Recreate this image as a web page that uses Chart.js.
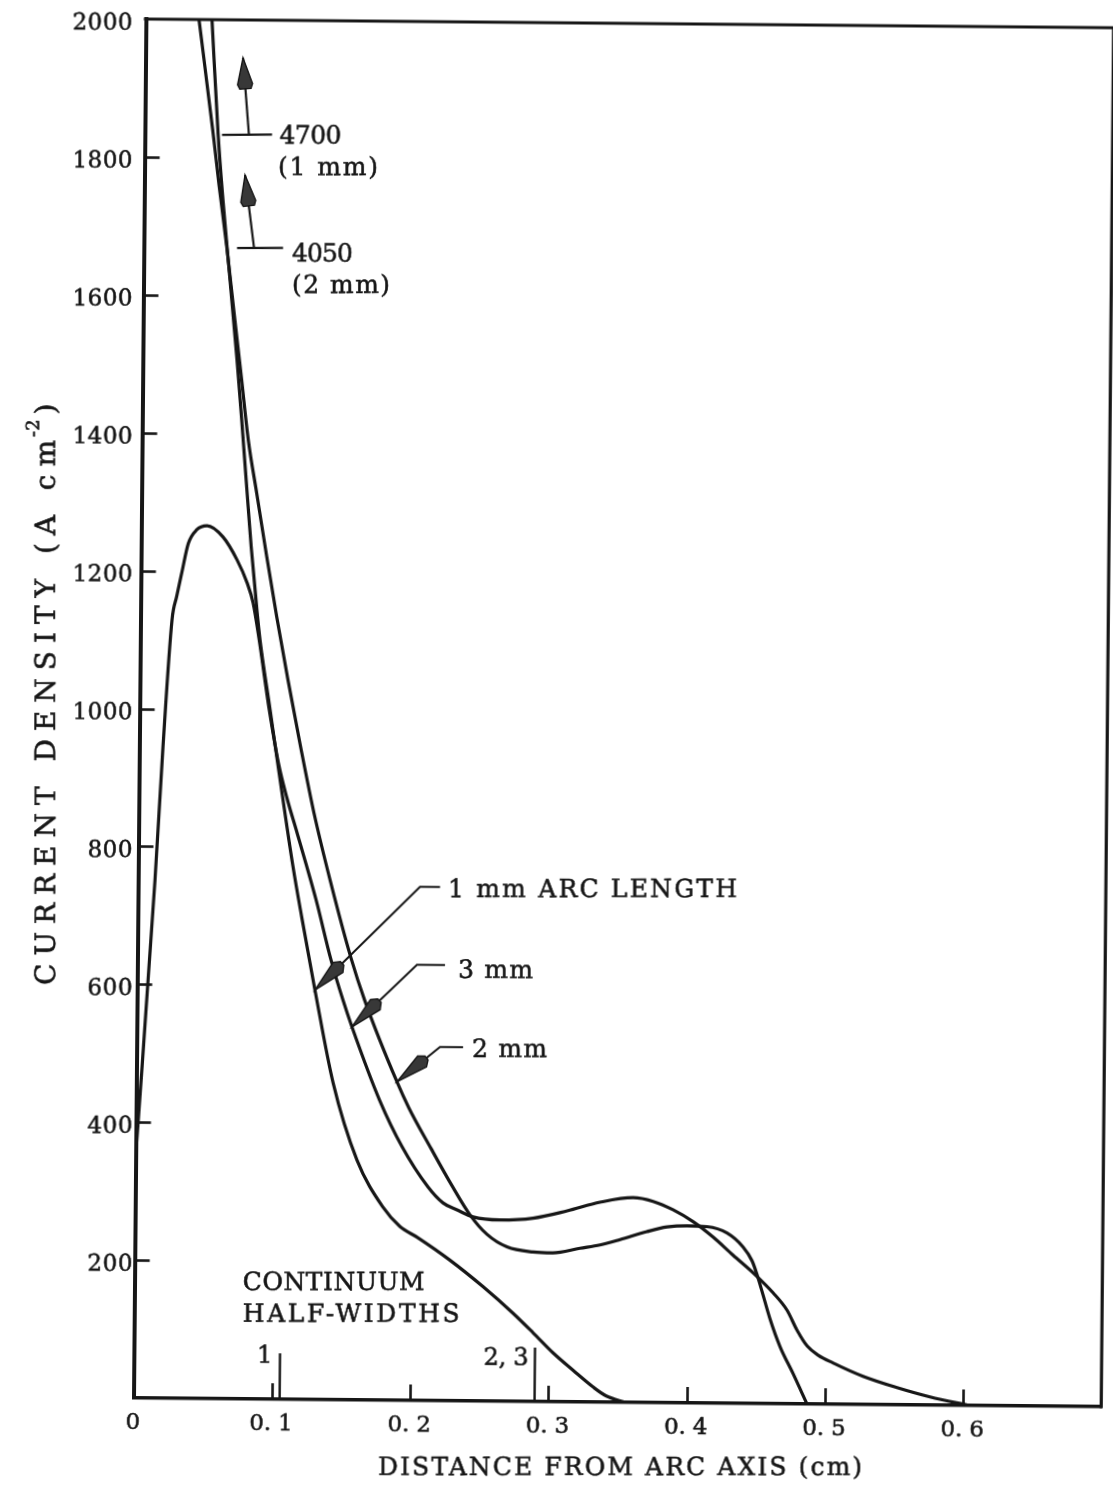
<!DOCTYPE html>
<html>
<head>
<meta charset="utf-8">
<script src="https://cdn.jsdelivr.net/npm/chart.js@4.4.1/dist/chart.umd.min.js"></script>
<style>
  html, body { margin: 0; padding: 0; background: #fff; overflow: hidden; }
  #sheet {
    position: absolute; left: 0; top: 0; width: 1113px; height: 1485px;
    transform-origin: 133.5px 1398px;
    transform: rotate(0.516deg);
  }
  canvas { display: block; }
</style>
</head>
<body>
<div id="sheet"><canvas id="c" width="1113" height="1485" style="width:1113px;height:1485px"></canvas></div>
<script>
// ---- axis ticks ----
const xTicks = [0, 0.1, 0.2, 0.3, 0.4, 0.5, 0.6, 0.7];
const xTickLabels = ['0', '0. 1', '0. 2', '0. 3', '0. 4', '0. 5', '0. 6', ''];
const yTicks = [0, 200, 400, 600, 800, 1000, 1200, 1400, 1600, 1800, 2000];
const yTickLabels = ['', '200', '400', '600', '800', '1000', '1200', '1400', '1600', '1800', '2000'];

// ---- current density profiles: r (cm), j (A cm^-2) ----
const r1mm = [0.0478, 0.0529, 0.0569, 0.0625, 0.0681, 0.0719, 0.0755, 0.0796, 0.0841, 0.0866, 0.0943, 0.1006,
              0.1119, 0.1185, 0.1286, 0.1423, 0.1601, 0.1792, 0.1917, 0.2040, 0.2280, 0.2521, 0.2739, 0.2885,
              0.3031, 0.3177, 0.3323, 0.3420, 0.3560];
const j1mm = [2000, 1836, 1739, 1623, 1507, 1420, 1333, 1236, 1145, 1101, 1000, 917,
              773, 700, 594, 460, 348, 280, 252, 237, 204, 166, 128, 100,
              71, 46, 22, 9, 0];

const r2mm = [0.0384, 0.0493, 0.0540, 0.0600, 0.0660, 0.0716, 0.0768, 0.0832, 0.0909, 0.0985, 0.1071, 0.1167,
              0.1267, 0.1388, 0.1543, 0.1646, 0.1885, 0.1974, 0.2135, 0.2290, 0.2422, 0.2546, 0.2692, 0.2880,
              0.3024, 0.3220, 0.3364, 0.3509, 0.3703, 0.3848, 0.3992, 0.4137, 0.4282, 0.4399, 0.4465, 0.4502,
              0.4539, 0.4599, 0.4673, 0.4769, 0.4872];
const j2mm = [2000, 1836, 1760, 1670, 1570, 1478, 1391, 1314, 1222, 1135, 1043, 946,
              851, 754, 642, 580, 462, 424, 366, 312, 270, 242, 224, 217,
              216, 223, 228, 236, 248, 255, 257, 256, 247, 227, 207, 187,
              163, 123, 83, 44, 0];

const r3mm = [0, 0.0122, 0.0171, 0.0228, 0.0260, 0.0295, 0.0341, 0.0401, 0.0475, 0.0591, 0.0694, 0.0768,
              0.0813, 0.0860, 0.0937, 0.1010, 0.1071, 0.1146, 0.1288, 0.1400, 0.1489, 0.1556, 0.1761, 0.1926,
              0.2116, 0.2226, 0.2328, 0.2444, 0.2639, 0.2878, 0.3124, 0.3362, 0.3600, 0.3745, 0.3890, 0.4036,
              0.4181, 0.4327, 0.4488, 0.4619, 0.4721, 0.4795, 0.4870, 0.4950, 0.5057, 0.5275, 0.5522, 0.5761,
              0.6050];
const j3mm = [350, 752, 945, 1129, 1163, 1197, 1240, 1260, 1266, 1250, 1217, 1184,
              1155, 1101, 1000, 920, 872, 822, 725, 638, 580, 541, 435, 368,
              310, 287, 277, 267, 263, 266, 277, 290, 297, 292, 280, 263,
              241, 215, 187, 161, 136, 107, 84, 71, 60, 41, 25, 12,
              0];

// on-axis values that run off the top of the scale
const peakJ = [4700, 4050];
const peakArc = ['1 mm', '2 mm'];

// continuum half-widths (cm)
const halfWidthR = [0.1057, 0.2901];
const halfWidthLabels = ['1', '2, 3'];

const curveLabels = ['1 mm ARC LENGTH', '3 mm', '2 mm'];

// ---- drawing constants ----
const ROT = 0.516 * Math.PI / 180;
const PIVOT = { x: 133.5, y: 1398 };
const FONT = '"DejaVu Serif", "Liberation Serif", serif';
const INK = '#161616';

function pts(r, j) { return r.map((v, i) => ({ x: v, y: j[i] })); }

function series(label, r, j) {
  return {
    label, data: pts(r, j),
    borderColor: INK, borderWidth: 3.2, pointRadius: 0,
    cubicInterpolationMode: 'monotone', fill: false
  };
}

// filled glyphs with a hairline outline, for the heavier typewritten look
function ink(c, str, x, y) {
  c.fillText(str, x, y);
  c.lineWidth = 0.55;
  c.strokeStyle = INK;
  c.strokeText(str, x, y);
}

// draw text stretched or squeezed to a given ink width through letter spacing
function fitText(c, str, x, y, size, width) {
  c.font = size + 'px ' + FONT;
  c.textAlign = 'left';
  c.textBaseline = 'alphabetic';
  const hasLS = 'letterSpacing' in c;
  if (hasLS) c.letterSpacing = '0px';
  const w = c.measureText(str).width;
  if (!width || str.length < 2) { ink(c, str, x, y); return w; }
  if (hasLS) {
    c.letterSpacing = ((width - w) / (str.length - 1)).toFixed(2) + 'px';
    ink(c, str, x, y);
    c.letterSpacing = '0px';
  } else {
    c.save(); c.translate(x, y); c.scale(width / w, 1); ink(c, str, 0, 0); c.restore();
  }
  return width;
}

// run fn in an upright frame (cancels the sheet rotation for typed lettering)
function upright(c, fn) {
  c.save();
  c.translate(PIVOT.x, PIVOT.y);
  c.rotate(-ROT);
  c.translate(-PIVOT.x, -PIVOT.y);
  fn();
  c.restore();
}

// filled pointer head; `back` is the fraction of the width kept at the rear
function arrowHead(c, from, tip, len, half, back) {
  const dx = tip.x - from.x, dy = tip.y - from.y, L = Math.hypot(dx, dy);
  const ux = dx / L, uy = dy / L, nx = -uy, ny = ux;
  const wx = tip.x - ux * len * 0.85, wy = tip.y - uy * len * 0.85;
  const bx = tip.x - ux * len, by = tip.y - uy * len;
  c.beginPath();
  c.moveTo(tip.x, tip.y);
  c.lineTo(wx + nx * half, wy + ny * half);
  c.lineTo(bx + nx * half * back, by + ny * half * back);
  c.lineTo(bx - nx * half * back, by - ny * half * back);
  c.lineTo(wx - nx * half, wy - ny * half);
  c.closePath();
  c.fillStyle = '#383838';
  c.fill();
  c.lineWidth = 1.4;
  c.strokeStyle = INK;
  c.stroke();
}

const lettering = {
  id: 'lettering',
  beforeDraw(chart) {
    const c = chart.ctx;
    c.save();
    c.fillStyle = '#fff';
    c.fillRect(0, 0, chart.width, chart.height);
    c.restore();
  },
  afterDraw(chart) {
    const c = chart.ctx;
    const xs = chart.scales.x, ys = chart.scales.y, a = chart.chartArea;
    const P = (x, y) => ({ x: xs.getPixelForValue(x), y: ys.getPixelForValue(y) });

    c.save();
    c.strokeStyle = INK;
    c.fillStyle = INK;
    c.lineCap = 'butt';

    // top and right edges of the frame
    c.lineWidth = 3.2;
    c.beginPath();
    c.moveTo(a.left - 2, a.top);
    c.lineTo(a.right, a.top);
    c.lineTo(a.right, a.bottom + 1.5);
    c.stroke();

    // inward tick marks on both axes
    c.lineWidth = 2.6;
    for (let i = 1; i < yTicks.length - 1; i++) {
      const y = Math.round(ys.getPixelForValue(yTicks[i])) + 0.5;
      c.beginPath(); c.moveTo(a.left - 1, y); c.lineTo(a.left + 15, y); c.stroke();
    }
    for (let i = 1; i < xTicks.length - 1; i++) {
      const x = Math.round(xs.getPixelForValue(xTicks[i])) + 0.5;
      c.beginPath(); c.moveTo(x, a.bottom + 1); c.lineTo(x, a.bottom - 16); c.stroke();
    }

    // continuum half-width markers
    const hwLen = [46, 54];
    c.lineWidth = 2.4;
    halfWidthR.forEach((r, i) => {
      const p = P(r, 0);
      c.beginPath();
      c.moveTo(p.x, p.y);
      c.lineTo(p.x, p.y - hwLen[i]);
      c.stroke();
    });

    // off-scale peak pointers
    const peakGeo = [
      { h0: [0.0558, 1833], h1: [0.0920, 1834], s0: [0.0753, 1833], tip: [0.0705, 1945] },
      { h0: [0.0674, 1669], h1: [0.1007, 1670], s0: [0.0797, 1669.5], tip: [0.0727, 1775] }
    ];
    peakGeo.forEach(g => {
      const h0 = P(...g.h0), h1 = P(...g.h1), s0 = P(...g.s0), tip = P(...g.tip);
      c.lineWidth = 2.2;
      c.beginPath(); c.moveTo(h0.x, h0.y); c.lineTo(h1.x, h1.y); c.stroke();
      c.beginPath(); c.moveTo(s0.x, s0.y); c.lineTo(tip.x, tip.y); c.stroke();
      arrowHead(c, s0, tip, 31, 7.5, 0.75);
    });

    // curve identification leaders
    const leaderGeo = [
      { h0: [0.2184, 745], corner: [0.2039, 745], tip: [0.1286, 594] },
      { h0: [0.2225, 632], corner: [0.2022, 632], tip: [0.1556, 541] },
      { h0: [0.2361, 513], corner: [0.2194, 513], tip: [0.1885, 462] }
    ];
    leaderGeo.forEach(g => {
      const h0 = P(...g.h0), k = P(...g.corner), tip = P(...g.tip);
      c.lineWidth = 2;
      c.beginPath(); c.moveTo(h0.x, h0.y); c.lineTo(k.x, k.y); c.lineTo(tip.x, tip.y); c.stroke();
      arrowHead(c, k, tip, 38, 7, 0.35);
    });

    // x tick labels follow the sheet
    c.fillStyle = INK;
    xTicks.forEach((v, i) => {
      const s = xTickLabels[i];
      if (!s) return;
      const x = xs.getPixelForValue(v);
      c.font = '23px ' + FONT;
      const w = s.length > 1 ? 43.5 : c.measureText(s).width;
      fitText(c, s, x - w / 2 - 0.5, 1428.5, 23, s.length > 1 ? 43.5 : 0);
    });

    upright(c, () => {
      c.fillStyle = INK;
      // y tick labels, right aligned
      yTicks.forEach((v, i) => {
        const s = yTickLabels[i];
        if (!s) return;
        const y = ys.getPixelForValue(v) + 10.5;
        const target = s.length * 15;
        fitText(c, s, 132.5 - target, y, 23, target);
      });

      // axis titles
      fitText(c, 'DISTANCE FROM ARC AXIS (cm)', 378, 1475, 25, 484);

      c.save();
      c.translate(55, 985);
      c.rotate(-Math.PI / 2);
      const mainW = fitText(c, 'CURRENT DENSITY (A cm', 0, 0, 28, 545);
      c.font = '18px ' + FONT;
      ink(c, '-2', mainW + 3, -16);
      const supW = c.measureText('-2').width;
      c.font = '28px ' + FONT;
      ink(c, ')', mainW + supW + 8, 0);
      c.restore();

      // peak values
      fitText(c, String(peakJ[0]), 279.5, 143.5, 25, 62);
      fitText(c, '(' + peakArc[0] + ')', 278, 175, 25, 100);
      fitText(c, String(peakJ[1]), 292, 261.5, 25, 61);
      fitText(c, '(' + peakArc[1] + ')', 292, 293, 25, 98);

      // curve names
      fitText(c, curveLabels[0], 448, 897, 25, 289);
      fitText(c, curveLabels[1], 458, 978, 25, 75);
      fitText(c, curveLabels[2], 472, 1057, 25, 75);

      // half-width legend
      fitText(c, 'CONTINUUM', 242.7, 1290, 25, 182);
      fitText(c, 'HALF-WIDTHS', 242.7, 1321.7, 25, 217);
      fitText(c, halfWidthLabels[0], 257, 1362.5, 24, 0);
      fitText(c, halfWidthLabels[1], 483.5, 1365, 24, 45);
    });

    c.restore();
  }
};

new Chart(document.getElementById('c'), {
  type: 'line',
  data: {
    datasets: [
      series('1 mm', r1mm, j1mm),
      series('2 mm', r2mm, j2mm),
      series('3 mm', r3mm, j3mm)
    ]
  },
  options: {
    responsive: false,
    devicePixelRatio: 1,
    animation: false,
    events: [],
    layout: { padding: { left: 0, top: 19, right: 11.75, bottom: 0 } },
    plugins: { legend: { display: false }, tooltip: { enabled: false }, title: { display: false } },
    scales: {
      x: {
        type: 'linear', min: 0, max: 0.7,
        afterBuildTicks: s => { s.ticks = xTicks.map(v => ({ value: v })); },
        afterFit: s => { s.height = 87; },
        ticks: { display: false },
        grid: { display: false },
        border: { display: true, width: 3.6, color: INK }
      },
      y: {
        type: 'linear', min: 0, max: 2000,
        afterBuildTicks: s => { s.ticks = yTicks.map(v => ({ value: v })); },
        afterFit: s => { s.width = 133.5; },
        ticks: { display: false },
        grid: { display: false },
        border: { display: true, width: 4, color: INK }
      }
    }
  },
  plugins: [lettering]
});
</script>
</body>
</html>
